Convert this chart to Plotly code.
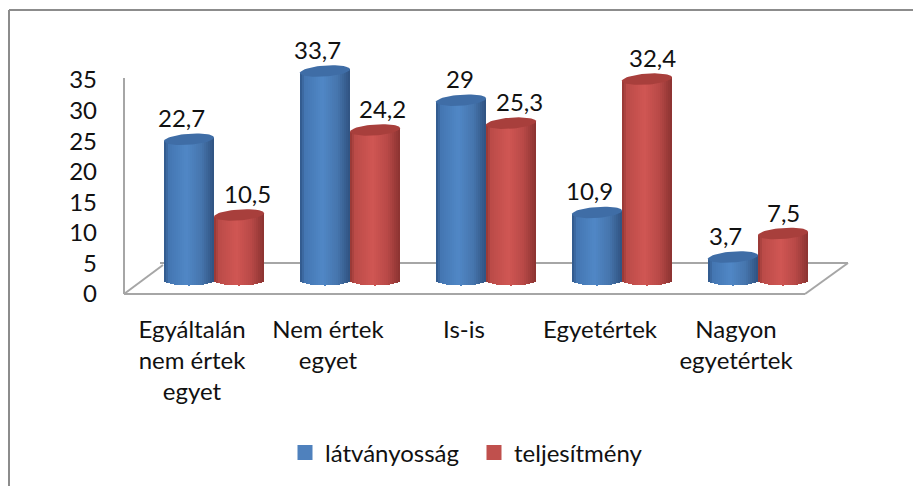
import math
import plotly.graph_objects as go

categories = ["Egyáltalán<br>nem értek<br>egyet", "Nem értek<br>egyet", "Is-is", "Egyetértek", "Nagyon<br>egyetértek"]
series_names = ["látványosság", "teljesítmény"]
latvanyossag = [22.7, 33.7, 29, 10.9, 3.7]
teljesitmeny = [10.5, 24.2, 25.3, 32.4, 7.5]
y_ticks = [0, 5, 10, 15, 20, 25, 30, 35]

W, H = 913, 486
L, R, T, B = 124, 848, 30, 294
FONT = "Lato"
FS = 24
TXT = "#111111"
PX_X = 136.0          # px per category
PX_Y = 6.2            # px per value unit for the cylinders
BASE_PX = 280.0       # pixel row of value 0 for the cylinders
XR = [(L - 192) / PX_X, (R - 192) / PX_X]
HALF = 25.0           # cylinder half width, px
RY = 5.5              # cap half height, px
TILT = 0.07
STRIP = 2.0

blue_stops = [(0, "#2f5687"), (.10, "#4476b2"), (.45, "#5087c6"), (.75, "#4675ad"), (1, "#2f5280")]
red_stops = [(0, "#933633"), (.10, "#bb4b48"), (.45, "#d05653"), (.75, "#b84947"), (1, "#8a3230")]
cap_colors = ["#3f6da6", "#a83f3c"]
legend_colors = ["#4f81bd", "#c0504d"]
dx_labels = [[-8, -8, -1, -8, -8], [8, 7, 8, 5, 0]]
bar_offsets = [22 - 25, 22 + 25]  # px from tick label centre


def shade(stops, t):
    for (a, ca), (b, cb) in zip(stops, stops[1:]):
        if t <= b:
            f = (t - a) / (b - a)
            rgb = [round(int(ca[i:i + 2], 16) * (1 - f) + int(cb[i:i + 2], 16) * f) for i in (1, 3, 5)]
            return "rgb(%d,%d,%d)" % tuple(rgb)
    return stops[-1][1]


def px_x(p):
    return (p - L) / (R - L)


def px_y(p):
    return (B - p) / (B - T)


fig = go.Figure()

# legend entries + primary axes
for name, color in zip(series_names, legend_colors):
    fig.add_trace(go.Scatter(x=[None], y=[None], name=name, mode="markers",
                             marker=dict(symbol="square", size=15, color=color), xaxis="x", yaxis="y"))

tickpos = list(range(len(categories)))
all_values = [latvanyossag, teljesitmeny]
annotations = []
n_strips = int(2 * HALF / STRIP)
for s, (vals, stops) in enumerate(zip(all_values, [blue_stops, red_stops])):
    off_px = bar_offsets[s]
    for k in range(n_strips):
        u = (k + .5) / n_strips * 2 - 1        # -1..1 across cylinder
        d = RY * math.sqrt(max(0, 1 - u * u)) / PX_Y
        tilt = TILT * u * HALF / PX_Y          # right side higher
        xs = [i + (off_px + u * HALF) / PX_X for i in tickpos]
        fig.add_trace(go.Bar(x=xs, y=[v + d + tilt for v in vals], base=[-d] * len(vals),
                             width=STRIP / PX_X, marker=dict(color=shade(stops, (u + 1) / 2), line_width=0),
                             xaxis="x", yaxis="y2", showlegend=False, hoverinfo="skip"))
    # caps
    for i, v in zip(tickpos, vals):
        cx, cy = [], []
        for a in range(0, 361, 6):
            t = math.radians(a)
            ex = HALF * math.cos(t)
            ey = RY * math.sin(t) + TILT * ex
            cx.append(i + (off_px + ex) / PX_X)
            cy.append(v + ey / PX_Y)
        fig.add_trace(go.Scatter(x=cx, y=cy, mode="lines", fill="toself", fillcolor=cap_colors[s],
                                 line=dict(width=0, color=cap_colors[s]), xaxis="x", yaxis="y2",
                                 showlegend=False, hoverinfo="skip"))
        annotations.append(dict(x=i + off_px / PX_X, y=v, xref="x", yref="y2",
                                text=str(v).replace(".", ","), showarrow=False,
                                xshift=dx_labels[s][i], yshift=21.5,
                                font=dict(family=FONT, size=FS, color=TXT)))

GREY = "#a6a6a6"
line = dict(color=GREY, width=2)


def seg(x0, y0, x1, y1, style=line):
    return dict(type="line", xref="paper", yref="paper", x0=px_x(x0), y0=px_y(y0), x1=px_x(x1), y1=px_y(y1),
                line=style, layer="below")


border = dict(color="#8c8c8c", width=2)
shapes = [
    seg(9, 10, 913, 10, border), seg(9, 10, 9, 486, border),
    seg(124, 78, 124, 294), seg(124, 294, 805, 294), seg(805, 294, 848, 263),
    seg(848, 263, 160, 263), seg(124, 294, 163, 265),
]

fig.update_layout(
    width=W, height=H, margin=dict(l=L, r=W - R, t=T, b=H - B, pad=0, autoexpand=False),
    paper_bgcolor="white", plot_bgcolor="rgba(0,0,0,0)", barmode="overlay", bargap=0,
    font=dict(family=FONT, size=FS, color=TXT), shapes=shapes, annotations=annotations,
    xaxis=dict(range=XR, tickmode="array", tickvals=tickpos, ticktext=categories, showgrid=False,
               zeroline=False, showline=False, ticks="", ticklabelstandoff=19, fixedrange=True),
    yaxis=dict(range=[0, (B - T) / ((B - 80) / 35)], tickmode="array", tickvals=y_ticks, showgrid=False,
               zeroline=False, showline=False, ticks="", ticklabelstandoff=26, fixedrange=True),
    yaxis2=dict(range=[(BASE_PX - B) / PX_Y, (BASE_PX - T) / PX_Y], overlaying="y", visible=False, fixedrange=True),
    legend=dict(orientation="h", x=px_x(285), xanchor="left", y=px_y(453), yanchor="middle",
                entrywidth=144, entrywidthmode="pixels", itemwidth=30, bgcolor="rgba(0,0,0,0)",
                font=dict(family=FONT, size=FS, color=TXT), traceorder="normal"),
)
fig.write_html("out.html", config=dict(displayModeBar=False),
               post_script="document.body.style.margin='0';document.documentElement.style.overflow='hidden';")
